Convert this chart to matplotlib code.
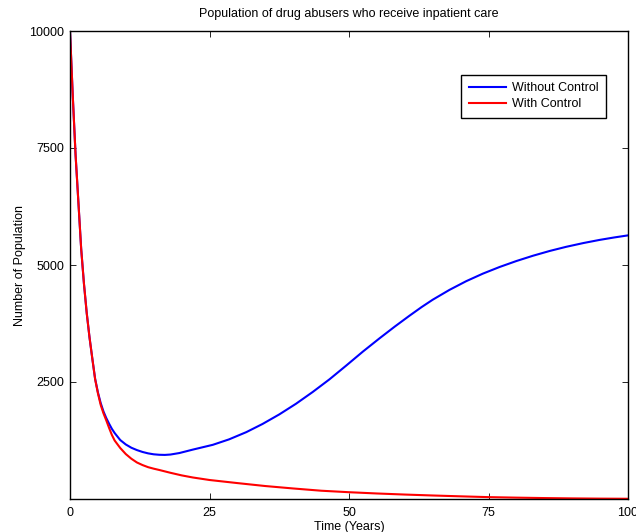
import matplotlib
matplotlib.use("Agg")
import matplotlib.pyplot as plt

plt.rcParams['font.family'] = ['Liberation Sans', 'DejaVu Sans']

title = "Population of drug abusers who receive inpatient care"
xlabel = "Time (Years)"
ylabel = "Number of Population"
x_ticks = [0, 25, 50, 75, 100]
y_ticks = [2500, 5000, 7500, 10000]

t_without = [0, 0.5, 1, 1.5, 2, 2.5, 3, 3.5, 4, 4.5, 5, 5.5, 6, 6.5, 7, 7.5, 8,
             9, 10, 11, 12, 13, 14, 15, 16, 17, 18, 19.6, 22, 25.6, 28.5, 31.6,
             34.5, 37.5, 40.5, 43.5, 46.5, 49.5, 52.5, 55.5, 58.2, 60.8, 63, 65,
             68, 71, 74, 77, 80, 83, 86, 88.9, 92, 94.9, 97.5, 100]
without_control = [10000, 8600, 7350, 6350, 5350, 4600, 3970, 3450, 3000, 2570,
                   2280, 2050, 1870, 1730, 1610, 1500, 1410, 1260, 1165, 1095,
                   1045, 1005, 975, 955, 945, 942, 950, 982, 1055, 1158, 1274,
                   1429, 1603, 1807, 2035, 2287, 2557, 2851, 3151, 3436, 3684,
                   3913, 4100, 4258, 4468, 4654, 4816, 4958, 5085, 5199, 5301,
                   5388, 5469, 5536, 5588, 5633]

t_with = [0, 0.5, 1, 1.5, 2, 2.5, 3, 3.5, 4, 4.5, 5, 5.5, 6, 6.5, 7, 7.5, 8, 9,
          10, 11, 12, 13, 14, 15, 16, 18, 20, 22, 25, 30, 35, 40, 45, 50, 55,
          60, 65, 70, 75, 80, 85, 90, 95, 100]
with_control = [10000, 8600, 7350, 6350, 5350, 4600, 3970, 3450, 3000, 2560,
                2260, 2010, 1830, 1680, 1520, 1370, 1250, 1090, 960, 860, 780,
                725, 680, 648, 620, 560, 505, 460, 406, 340, 277, 225, 177, 145,
                118, 95, 75, 57, 40, 29, 20, 13, 8, 5]

fig = plt.figure(figsize=(6.36, 5.32), dpi=100)
ax = fig.add_axes([70/636, 33/532, 558/636, 468/532])

ax.plot(t_without, without_control, color='#0000ff', lw=1.5, label='Without Control')
ax.plot(t_with, with_control, color='#ff0000', lw=1.5, label='With Control')

ax.set_xlim(0, 100)
ax.set_ylim(0, 10000)
ax.set_xticks(x_ticks)
ax.set_yticks(y_ticks)
ax.tick_params(direction='in', top=True, right=True, length=4, width=0.6,
               labelsize=9, pad=4)
ax.tick_params(axis='x', pad=6)
for s in ax.spines.values():
    s.set_linewidth(1.0)

ax.set_title(title, fontsize=9, pad=10)
ax.set_xlabel(xlabel, fontsize=9, labelpad=1.5)
ax.set_ylabel(ylabel, fontsize=9, labelpad=2.5)

leg = ax.legend(loc='upper right', bbox_to_anchor=(0.961, 0.906), borderaxespad=0,
                fancybox=False, framealpha=1, edgecolor='black', fontsize=9,
                handlelength=3.0, handletextpad=0.45, borderpad=0.6,
                labelspacing=0.3)
leg.get_frame().set_linewidth(1.0)

fig.savefig("out.png", dpi=100)
